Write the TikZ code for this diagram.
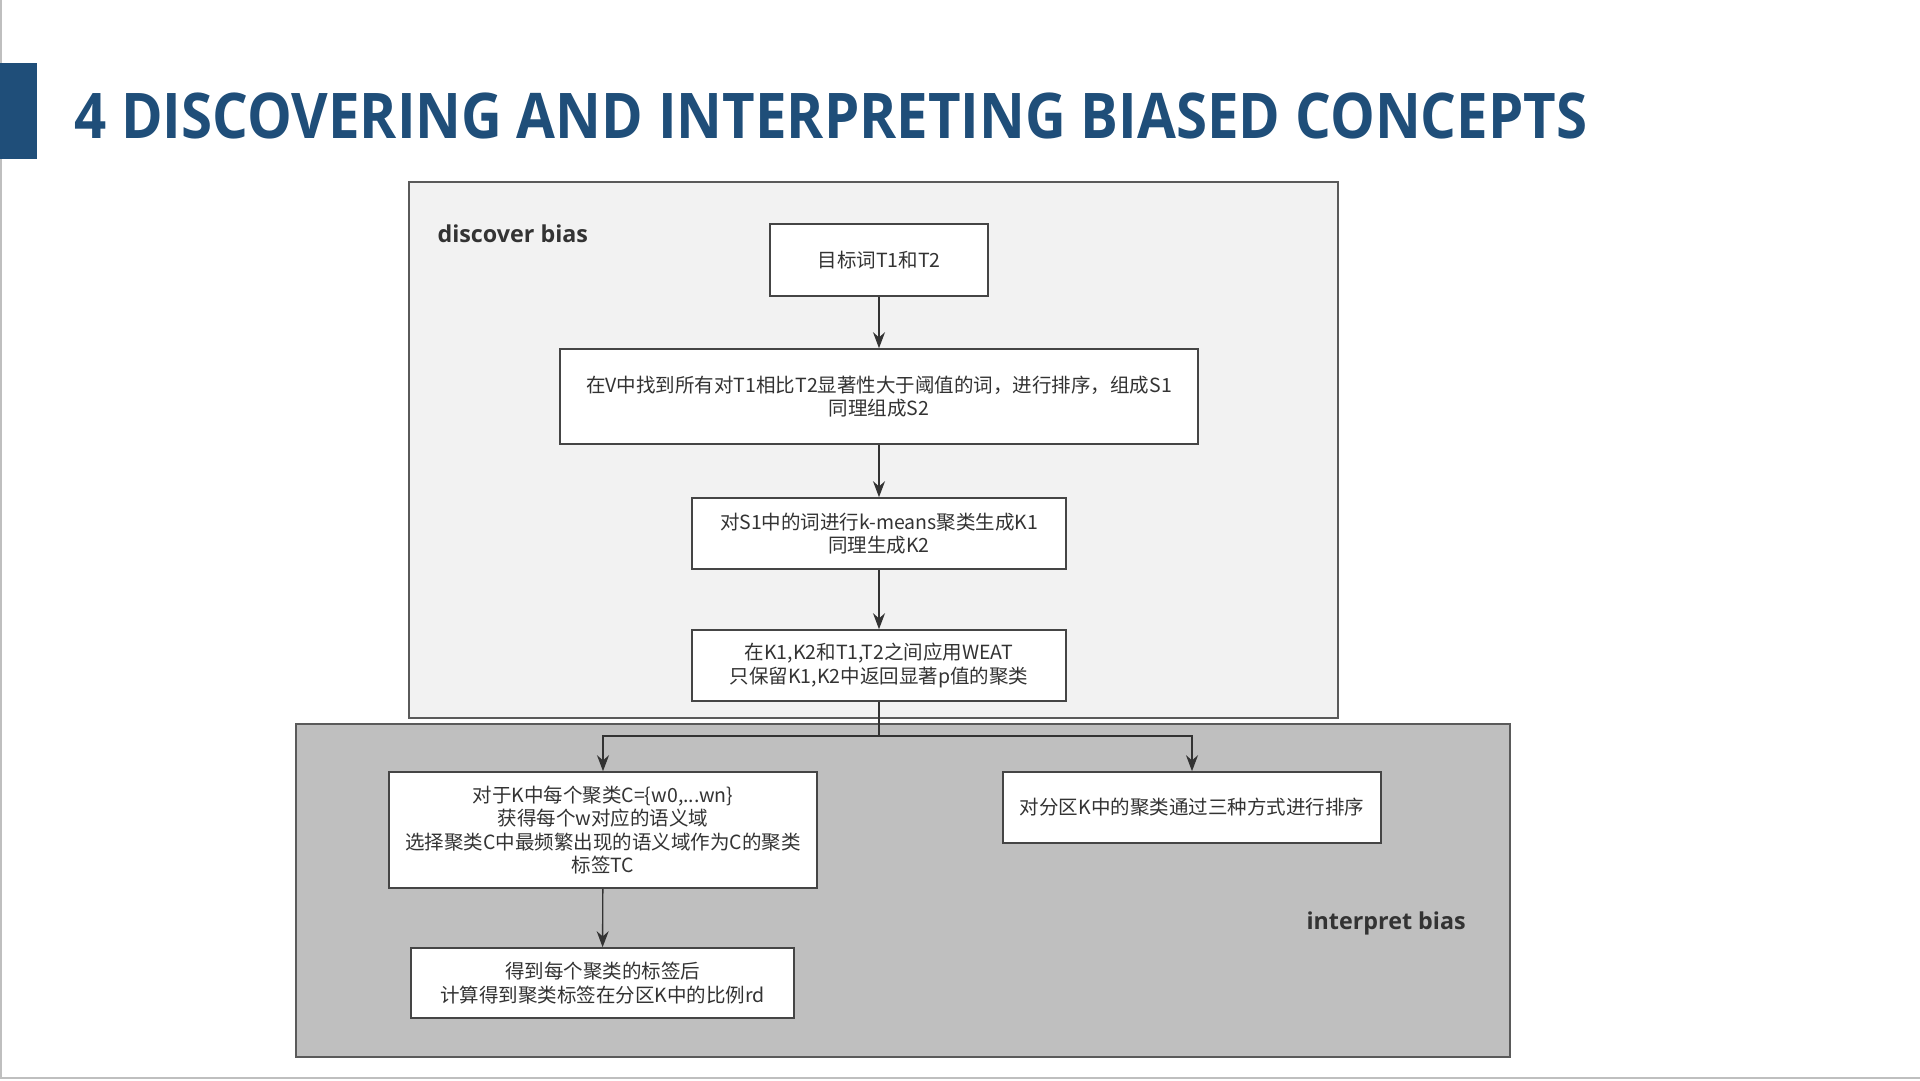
\documentclass[tikz,border=0pt]{standalone}
\usepackage{fontspec}
\setmainfont{Open Sans}
\newfontfamily\cjk{Noto Sans CJK SC}
\usepackage{xcolor}
\usepackage{tikz}
\usetikzlibrary{calc, positioning, arrows.meta}

\definecolor{titleblue}{HTML}{1F4E79}
\definecolor{discfill}{HTML}{F2F2F2}
\definecolor{interpfill}{HTML}{BFBFBF}
\definecolor{frameclr}{HTML}{5A5A5A}
\definecolor{boxline}{HTML}{454545}
\definecolor{textgray}{HTML}{333333}

\begin{document}
\begin{tikzpicture}[x=1pt, y=-1pt, >={Stealth[length=16pt, width=12pt]},
    stepbox/.style={draw=boxline, line width=1.6pt, fill=white, text=textgray,
        align=center, inner sep=0pt, font=\cjk\fontsize{19.5}{23.5}\selectfont},
    flow/.style={->, draw=textgray, line width=1.4pt},
    panel/.style={draw=frameclr, line width=2pt},
    arealabel/.style={anchor=base west, text=textgray,
        font=\bfseries\fontsize{23.3}{27}\selectfont}]
    % Khung trang
    \useasboundingbox (0,0) rectangle (1920,1081);
    \fill[white] (0,0) rectangle (1920,1081);
    \draw[black!25, line width=1.5pt] (1,0) -- (1,1078) -- (1920,1078);

    % Tiêu đề
    \fill[titleblue] (0,63) rectangle (37,159);
    \node[anchor=base west, inner sep=0pt, text=titleblue,
        font=\bfseries\fontsize{63}{70}\selectfont] (title) at (74,138)
        {\scalebox{0.895}[1]{4 DISCOVERING AND INTERPRETING BIASED CONCEPTS}};

    % Hai vùng nền
    \draw[panel, fill=discfill] (409,182) rectangle (1338,718);
    \draw[panel, fill=interpfill] (296,724) rectangle (1510,1057);
    \node[arealabel] (discover) at (434,242) {discover bias};
    \node[arealabel] (interpret) at (1303,929) {interpret bias};

    % Các bước
    \node[stepbox, minimum width=218, minimum height=72] (target) at (879,260) {目标词T1和T2};
    \node[stepbox, minimum width=638, minimum height=95] (sets) at (879,396.5)
        {在V中找到所有对T1相比T2显著性大于阈值的词，进行排序，组成S1\\同理组成S2};
    \node[stepbox, minimum width=374, minimum height=71] (kmeans) at (879,533.5)
        {对S1中的词进行k-means聚类生成K1\\同理生成K2};
    \node[stepbox, minimum width=374, minimum height=71] (weat) at (879,665.5)
        {在K1,K2和T1,T2之间应用WEAT\\只保留K1,K2中返回显著p值的聚类};
    \node[stepbox, minimum width=428, minimum height=116] (label) at (603,830)
        {对于K中每个聚类C=\{w0,...wn\}\\获得每个w对应的语义域\\选择聚类C中最频繁出现的语义域作为C的聚类\\标签TC};
    \node[stepbox, minimum width=383, minimum height=70] (ratio) at (602.5,983)
        {得到每个聚类的标签后\\计算得到聚类标签在分区K中的比例rd};
    \node[stepbox, minimum width=378, minimum height=71] (rank) at (1192,807.5)
        {对分区K中的聚类通过三种方式进行排序};

    % Mũi tên
    \coordinate (split) at (879,736);
    \draw[flow] (target) -- (sets);
    \draw[flow] (sets) -- (kmeans);
    \draw[flow] (kmeans) -- (weat);
    \draw[flow] (weat.south) -- (split) -| (label.north);
    \draw[flow] (split) -| (rank.north);
    \draw[flow] (label) -- (ratio);
\end{tikzpicture}
\end{document}
